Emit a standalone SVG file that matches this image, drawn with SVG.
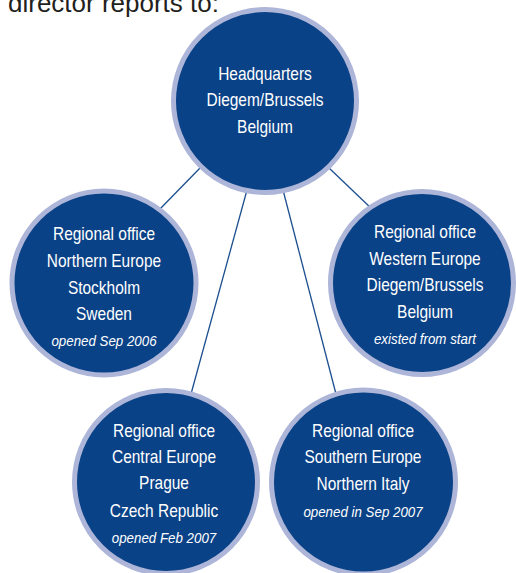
<svg xmlns="http://www.w3.org/2000/svg" width="516" height="573" viewBox="0 0 516 573">
  <style>
    .disc { fill: #0a4287; stroke: #adb5d8; stroke-width: 5; }
    .link { stroke: #1c4f8f; stroke-width: 1.3; fill: none; }
    .lbl { font-family: "Liberation Sans", Arial, sans-serif; font-size: 18px; fill: #ffffff; text-anchor: middle; }
    .note { font-family: "Liberation Sans", Arial, sans-serif; font-size: 15.5px; font-style: italic; fill: #ffffff; text-anchor: middle; }
    .lead { font-family: "Liberation Sans", Arial, sans-serif; font-size: 26px; fill: #231f20; }
  </style>
  <rect width="516" height="573" fill="#ffffff"/>

  <text class="lead" x="8" y="12">director reports to:</text>

  <!-- connectors from headquarters to the regional offices -->
  <g id="connectors">
    <line class="link" x1="201" y1="167" x2="158" y2="211"/>
    <line class="link" x1="328" y1="167" x2="373" y2="210"/>
    <line class="link" x1="247" y1="190" x2="191" y2="394"/>
    <line class="link" x1="283" y1="190" x2="336" y2="394"/>
  </g>

  <g id="hq">
    <circle class="disc" cx="265" cy="101" r="91.5"/>
    <g transform="translate(265,0) scale(0.86,1)">
      <text class="lbl" x="0" y="80">Headquarters</text>
      <text class="lbl" x="0" y="106">Diegem/Brussels</text>
      <text class="lbl" x="0" y="133">Belgium</text>
    </g>
  </g>

  <g id="north">
    <circle class="disc" cx="104" cy="283" r="92"/>
    <g transform="translate(104,0) scale(0.86,1)">
      <text class="lbl" x="0" y="240">Regional office</text>
      <text class="lbl" x="0" y="267">Northern Europe</text>
      <text class="lbl" x="0" y="294">Stockholm</text>
      <text class="lbl" x="0" y="320">Sweden</text>
      <text class="note" x="0" y="346">opened Sep 2006</text>
    </g>
  </g>

  <g id="west">
    <circle class="disc" cx="422" cy="283" r="91.5"/>
    <g transform="translate(425,0) scale(0.86,1)">
      <text class="lbl" x="0" y="238">Regional office</text>
      <text class="lbl" x="0" y="265">Western Europe</text>
      <text class="lbl" x="0" y="291">Diegem/Brussels</text>
      <text class="lbl" x="0" y="318">Belgium</text>
      <text class="note" x="0" y="344">existed from start</text>
    </g>
  </g>

  <g id="central">
    <circle class="disc" cx="166" cy="482" r="91.5"/>
    <g transform="translate(164,0) scale(0.86,1)">
      <text class="lbl" x="0" y="437">Regional office</text>
      <text class="lbl" x="0" y="463">Central Europe</text>
      <text class="lbl" x="0" y="489">Prague</text>
      <text class="lbl" x="0" y="517">Czech Republic</text>
      <text class="note" x="0" y="543">opened Feb 2007</text>
    </g>
  </g>

  <g id="south">
    <circle class="disc" cx="363.5" cy="482" r="92"/>
    <g transform="translate(363,0) scale(0.86,1)">
      <text class="lbl" x="0" y="437">Regional office</text>
      <text class="lbl" x="0" y="463">Southern Europe</text>
      <text class="lbl" x="0" y="490">Northern Italy</text>
      <text class="note" x="0" y="517">opened in Sep 2007</text>
    </g>
  </g>
</svg>
